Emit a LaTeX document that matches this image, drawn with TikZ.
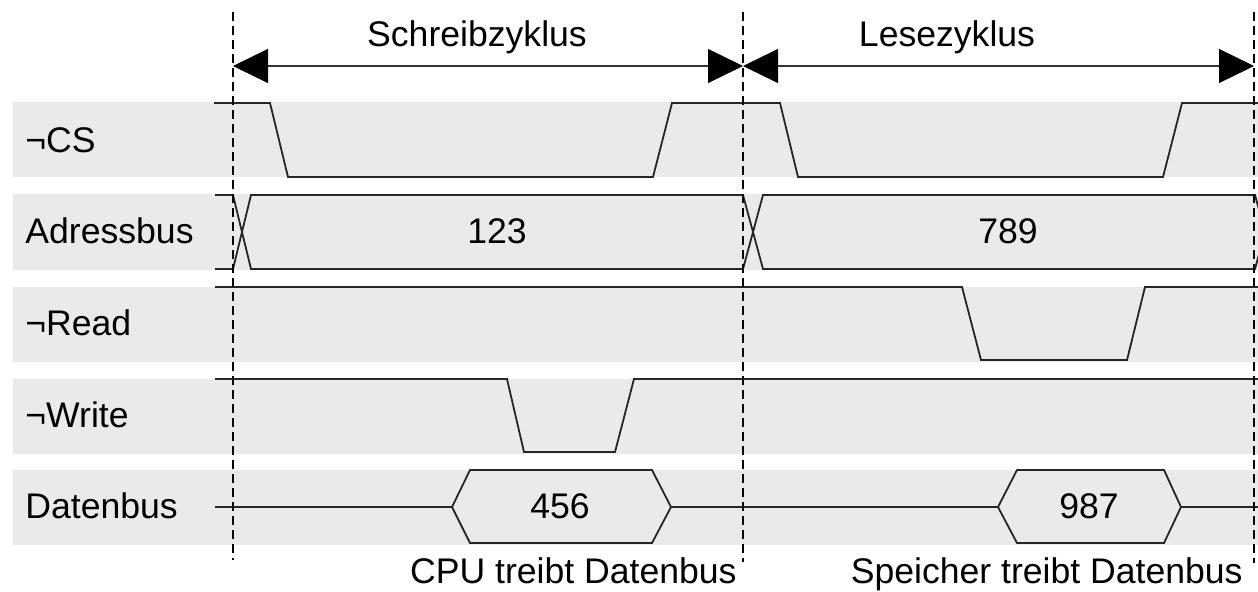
\documentclass[tikz,border=0pt]{standalone}
\usepackage{fontspec}
\setmainfont{Liberation Sans}
\usetikzlibrary{arrows.meta}
\definecolor{laneGray}{RGB}{234,234,234}
\begin{document}
\begin{tikzpicture}[x=0.5pt,y=-0.5pt,
  lane/.style={fill=laneGray,draw=none},
  sig/.style={line width=0.9pt,line join=miter,draw=black!85},
  marker/.style={line width=0.75pt,dash pattern=on 4.5pt off 2.5pt,draw=black},
  txt/.style={font=\fontsize{17.8}{20}\selectfont,inner sep=0pt},
  lbl/.style={txt,anchor=base west},
  val/.style={txt,anchor=base},
  span/.style={line width=0.6pt,draw=black!80,
    {Triangle[length=17.5pt,width=17pt,color=black]}-{Triangle[length=17.5pt,width=17pt,color=black]}},
]
\useasboundingbox (0,0) rectangle (1258,591);
\clip (0,0) rectangle (1258,591);

% signal lanes
\fill[lane] (13,102) rectangle (1258,177);
\fill[lane] (13,194) rectangle (1258,270);
\fill[lane] (13,287) rectangle (1258,362);
\fill[lane] (13,379) rectangle (1258,454);
\fill[lane] (13,470) rectangle (1258,545);

% signal names
\node[lbl] (ncs)    at (25,152) {¬CS};
\node[lbl] (naddr)  at (25,243) {Adressbus};
\node[lbl] (nread)  at (25,335) {¬Read};
\node[lbl] (nwrite) at (25,427) {¬Write};
\node[lbl] (ndata)  at (25,518) {Datenbus};

% chip select
\draw[sig] (214,103) -- (270,103) -- (288,177) -- (653,177) -- (672,103)
  -- (780,103) -- (798,177) -- (1163,177) -- (1182,103) -- (1258,103);

% address bus
\draw[sig] (215,195) -- (233,195) -- (251,269) -- (743,269) -- (763,195)
  -- (1255,195) -- (1275,269);
\draw[sig] (215,269) -- (233,269) -- (251,195) -- (743,195) -- (763,269)
  -- (1255,269) -- (1275,195);
\node[val] (a123) at (497,243) {123};
\node[val] (a789) at (1008,243) {789};

% read strobe
\draw[sig] (215,287) -- (962,287) -- (981,360) -- (1127,360) -- (1145,287)
  -- (1258,287);

% write strobe
\draw[sig] (215,379) -- (507,379) -- (524,452) -- (615,452) -- (634,379)
  -- (1258,379);

% data bus
\draw[sig] (215,507) -- (452,507);
\draw[sig] (452,507) -- (470,470) -- (652,470) -- (671,507) -- (652,543)
  -- (470,543) -- cycle;
\draw[sig] (671,507) -- (998,507);
\draw[sig] (998,507) -- (1017,470) -- (1164,470) -- (1181,507) -- (1164,543)
  -- (1017,543) -- cycle;
\draw[sig] (1181,507) -- (1258,507);
\node[val] (d456) at (560,518) {456};
\node[val] (d987) at (1089,518) {987};

% cycle boundaries
\coordinate (t0) at (233,66);
\coordinate (t1) at (743,66);
\coordinate (t2) at (1254,66);
\draw[marker] (233,12) -- (233,560);
\draw[marker] (743,12) -- (743,562);
\draw[marker] (1254,12) -- (1254,563);
\draw[span] (t0) -- (t1);
\draw[span] (t1) -- (t2);
\node[val] (wcyc) at (477,46) {Schreibzyklus};
\node[val] (rcyc) at (947,46) {Lesezyklus};

% bus drivers
\node[txt,anchor=base east] (cpu) at (737,583) {CPU treibt Datenbus};
\node[txt,anchor=base east] (mem) at (1243,583) {Speicher treibt Datenbus};
\end{tikzpicture}
\end{document}
